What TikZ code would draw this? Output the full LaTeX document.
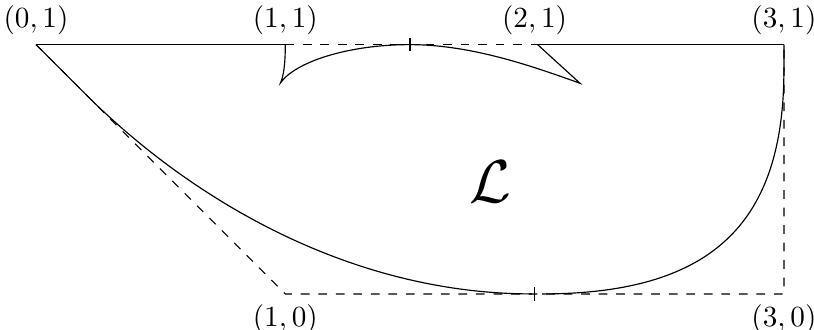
\documentclass[tikz,border=0pt]{standalone}
\begin{document}
\begin{tikzpicture}[x=3cm,y=3cm,
  guide/.style={dashed},
  boundary/.style={line width=0.4pt},
  tick/.style={line width=0.4pt},
  lbl/.style={inner sep=0.333em}]
\useasboundingbox (-0.1444,-0.1444) rectangle (3.1207,1.179);
\coordinate (A) at (0,1);
\coordinate (B) at (1,1);
\coordinate (C) at (2,1);
\coordinate (D) at (3,1);
\coordinate (E) at (1,0);
\coordinate (F) at (3,0);
\coordinate (T1) at (1.5,1);
\coordinate (T2) at (2,0);
% frame
\draw[boundary] (A) -- (B);
\draw[boundary] (C) -- (D);
\draw[guide] (B) -- (C);
\draw[guide] (A) -- (E) -- (F) -- (D);
% lower boundary
\draw[boundary] (A) -- (0.2,0.8) .. controls (0.6,0.4) and (1.24,0) .. (1.99,0);
\draw[boundary] (2.03,0) .. controls (2.73,0) and (3,0.3) .. (3,0.9) -- (D);
% upper boundary with cusps
\draw[boundary] (B) .. controls (1,0.92) and (0.993,0.875) .. (0.981,0.847)
  .. controls (1.04,0.93) and (1.25,1) .. (T1)
  .. controls (1.75,1) and (2.0,0.91) .. (2.182,0.845) -- (2.012,1);
% ticks
\draw[tick] ([yshift=-0.08cm]T1) -- ([yshift=0.08cm]T1);
\draw[tick] ([yshift=-0.08cm]T2) -- ([yshift=0.08cm]T2);
% labels
\node[lbl,above] (lA) at (A) {$(0,1)$};
\node[lbl,above] (lB) at (B) {$(1,1)$};
\node[lbl,above] (lC) at (C) {$(2,1)$};
\node[lbl,above] (lD) at (D) {$(3,1)$};
\node[lbl,below] (lE) at (E) {$(1,0)$};
\node[lbl,below] (lF) at (F) {$(3,0)$};
\node (L) at (1.821,0.449) {\huge$\mathcal{L}$};
\end{tikzpicture}
\end{document}
